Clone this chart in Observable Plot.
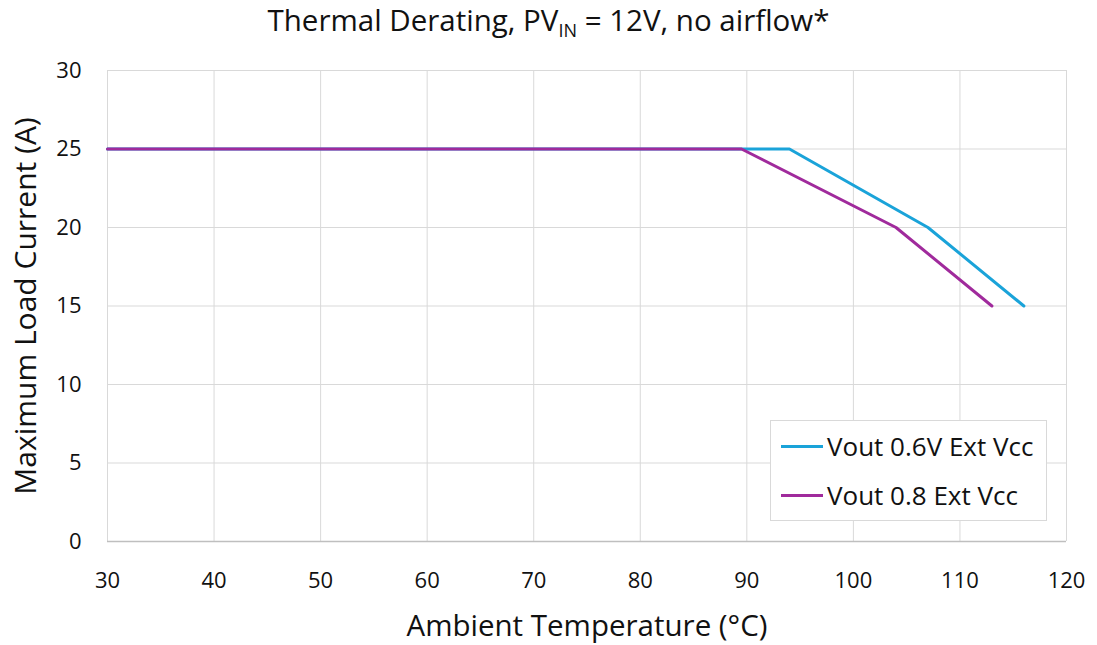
<!DOCTYPE html>
<html>
<head>
<meta charset="utf-8">
<script src="https://cdn.jsdelivr.net/npm/d3@7"></script>
<script src="https://cdn.jsdelivr.net/npm/@observablehq/plot@0.6"></script>
<style>
  html, body { margin: 0; padding: 0; background: #fff; }
  body { width: 1097px; height: 645px; position: relative; overflow: hidden; font-family: "Open Sans", sans-serif; }
  #title { height: 40px; line-height: 40px; text-align: center; font-size: 29.5px; color: #111; }
  #title sub { font-size: 18px; vertical-align: -6px; line-height: 0; }
  #legend { position: absolute; left: 770px; top: 420px; width: 277px; height: 101px; border: 1px solid #d9d9d9; background: #fff; box-sizing: border-box; }
  .item { position: absolute; left: 10px; height: 30px; display: flex; align-items: center; font-size: 26px; color: #111; }
  .swatch { width: 42px; height: 3px; margin-right: 4px; }
</style>
</head>
<body>
<div id="title">Thermal Derating, PV<sub>IN</sub> = 12V, no airflow*</div>
<div id="chart"></div>
<div id="legend"></div>
<script>
const seriesNames = ["Vout 0.6V Ext Vcc", "Vout 0.8 Ext Vcc"];
const seriesColors = ["#1aa3d9", "#a02a9c"];
const tempA = [30, 94, 107, 116];
const currentA = [25, 25, 20, 15];
const tempB = [30, 89.5, 104, 113];
const currentB = [25, 25, 20, 15];
const xTicks = [30, 40, 50, 60, 70, 80, 90, 100, 110, 120];
const yTicks = [0, 5, 10, 15, 20, 25, 30];

const rows = [
  ...tempA.map((t, i) => ({series: seriesNames[0], temp: t, current: currentA[i]})),
  ...tempB.map((t, i) => ({series: seriesNames[1], temp: t, current: currentB[i]}))
];

const chart = Plot.plot({
  width: 1097,
  height: 605,
  marginLeft: 107,
  marginRight: 31,
  marginTop: 30,
  marginBottom: 104,
  style: {fontFamily: "'Open Sans', sans-serif", fontSize: "22px", color: "#111", background: "#fff"},
  x: {domain: [30, 120]},
  y: {domain: [0, 30]},
  color: {domain: seriesNames, range: seriesColors},
  marks: [
    Plot.gridX(xTicks, {stroke: "#d9d9d9", strokeOpacity: 1, strokeWidth: 1}),
    Plot.gridY(yTicks, {stroke: "#d9d9d9", strokeOpacity: 1, strokeWidth: 1}),
    Plot.ruleY([0], {stroke: "#bfbfbf", strokeWidth: 1.5}),
    Plot.axisX(xTicks, {tickSize: 0, tickPadding: 31, label: null, fontSize: 22}),
    Plot.axisY(yTicks, {tickSize: 0, tickPadding: 26, label: null, fontSize: 22}),
    Plot.text(["Ambient Temperature (°C)"], {frameAnchor: "bottom", dy: 94, fontSize: 29.5}),
    Plot.text(["Maximum Load Current (A)"], {frameAnchor: "left", textAnchor: "middle", rotate: -90, dx: -81, fontSize: 30}),
    Plot.line(rows, {x: "temp", y: "current", z: "series", stroke: "series", strokeWidth: 3})
  ]
});
document.getElementById("chart").appendChild(chart);

const legend = document.getElementById("legend");
seriesNames.forEach((name, i) => {
  const item = document.createElement("div");
  item.className = "item";
  item.style.top = (10 + i * 49) + "px";
  const sw = document.createElement("div");
  sw.className = "swatch";
  sw.style.background = seriesColors[i];
  const label = document.createElement("span");
  label.textContent = name;
  item.appendChild(sw);
  item.appendChild(label);
  legend.appendChild(item);
});
</script>
</body>
</html>
